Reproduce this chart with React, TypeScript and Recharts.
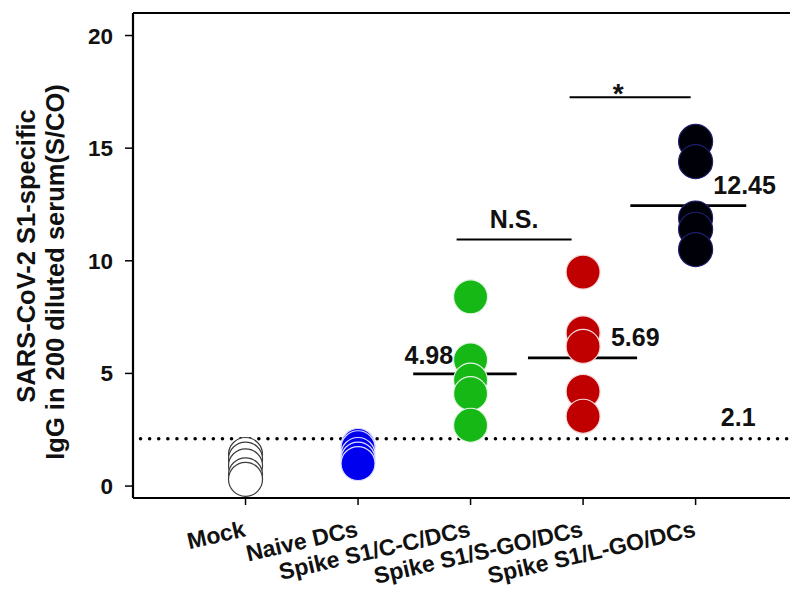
import { ReferenceLine, Scatter, ScatterChart, XAxis, YAxis } from "recharts";

const FONT = "Arial, 'Liberation Sans', sans-serif";

// groups along the x axis
const groups = ["Mock", "Naive DCs", "Spike S1/C-C/DCs", "Spike S1/S-GO/DCs", "Spike S1/L-GO/DCs"];

// IgG S/CO values per animal
const mockValues = [1.4, 1.2, 0.9, 0.5, 0.3];
const naiveValues = [1.8, 1.7, 1.4, 1.2, 1.0];
const ccValues = [8.4, 5.6, 4.7, 4.1, 2.7];
const sgoValues = [9.5, 6.8, 6.2, 4.2, 3.1];
const lgoValues = [15.3, 14.4, 11.9, 11.4, 10.5];

// group means (groups 3,4,5) and cut-off
const meanGroups = [3, 4, 5];
const meanValues = [4.98, 5.69, 12.45];
const cutoff = 2.1;

const yTicks = [0, 5, 10, 15, 20];

const series = [
  { values: mockValues, fill: "#ffffff", stroke: "#3c3c3c" },
  { values: naiveValues, fill: "#0000ee", stroke: "#dcdcff" },
  { values: ccValues, fill: "#16b816", stroke: "#e4f4e4" },
  { values: sgoValues, fill: "#c00000", stroke: "#f4dada" },
  { values: lgoValues, fill: "#000008", stroke: "#1e1e6a" },
];

// mean bar extent around each group centre (x units)
const meanSpan = [
  [-0.51, 0.41],
  [-0.49, 0.48],
  [-0.58, 0.45],
];

function XTick({ x, y, payload }: any) {
  return (
    <g transform={`translate(${x + 1},${y + 29})`}>
      <text
        textAnchor="end"
        transform="rotate(-13)"
        fontSize={23}
        fontWeight="bold"
        fontFamily={FONT}
        fill="#111"
      >
        {groups[payload.value - 1]}
      </text>
    </g>
  );
}

function LineLabel({ viewBox, text, dx = 0, dy = 0, anchor = "start", from = "start", size = 25 }: any) {
  if (!viewBox) return null;
  const base =
    from === "center" ? viewBox.x + viewBox.width / 2 : from === "end" ? viewBox.x + viewBox.width : viewBox.x;
  return (
    <text
      x={base + dx}
      y={viewBox.y + dy}
      textAnchor={anchor}
      fontSize={size}
      fontWeight="bold"
      fontFamily={FONT}
      fill="#111"
    >
      {text}
    </text>
  );
}

function AxisTitle() {
  const common = {
    fontSize: 25.5,
    fontWeight: "bold" as const,
    fontFamily: FONT,
    fill: "#111",
    textAnchor: "middle" as const,
    dominantBaseline: "central" as const,
  };
  return (
    <g>
      <text {...common} transform="translate(18,248) rotate(-90)">
        SARS-CoV-2 S1-specific
      </text>
      <text {...common} transform="translate(47,264) rotate(-90)">
        IgG in 200 diluted serum(S/CO)
      </text>
    </g>
  );
}

export default function App() {
  return (
    <ScatterChart width={790} height={584} margin={{ top: 5, right: 0, bottom: 0, left: 0 }}>
      <XAxis
        type="number"
        dataKey="x"
        domain={[0, 5.91]}
        ticks={[1, 2, 3, 4, 5]}
        allowDataOverflow
        height={94}
        tickSize={7}
        tickMargin={2}
        axisLine={{ stroke: "#000", strokeWidth: 2.2 }}
        tickLine={{ stroke: "#000", strokeWidth: 1.5 }}
        tick={(p: any) => <XTick {...p} />}
      />
      <YAxis
        type="number"
        dataKey="y"
        domain={[-0.53, 21]}
        ticks={yTicks}
        allowDataOverflow
        width={125}
        tickSize={8}
        tickMargin={12}
        axisLine={{ stroke: "#000", strokeWidth: 2.2 }}
        tickLine={{ stroke: "#000", strokeWidth: 1.5 }}
        tick={{ fontSize: 22.5, fontWeight: "bold", fontFamily: FONT, fill: "#111" }}
        label={<AxisTitle />}
      />
      <ReferenceLine y={21} stroke="#000" strokeWidth={2.2} />
      <ReferenceLine
        segment={[
          { x: 0.067, y: cutoff },
          { x: 5.82, y: cutoff },
        ]}
        stroke="#000"
        strokeWidth={3.6}
        strokeDasharray="0 9.1"
        strokeLinecap="round"
        label={<LineLabel text={String(cutoff)} from="end" dx={-67} dy={-13} />}
      />
      {series.map((s, i) => (
        <Scatter
          key={groups[i]}
          name={groups[i]}
          data={s.values.map((v) => ({ x: i + 1, y: v }))}
          isAnimationActive={false}
          shape={(p: any) => (
            <circle cx={p.cx} cy={p.cy} r={17} fill={s.fill} stroke={s.stroke} strokeWidth={1.2} />
          )}
        />
      ))}
      {meanValues.map((m, i) => (
        <ReferenceLine
          key={`mean-${i}`}
          segment={[
            { x: meanGroups[i] + meanSpan[i][0], y: m },
            { x: meanGroups[i] + meanSpan[i][1], y: m },
          ]}
          stroke="#000"
          strokeWidth={2.6}
          label={
            i === 0 ? (
              <LineLabel text={m.toFixed(2)} anchor="end" dx={40} dy={-10} />
            ) : (
              <LineLabel text={m.toFixed(2)} dx={83} dy={-12} />
            )
          }
        />
      ))}
      <ReferenceLine
        segment={[
          { x: 2.876, y: 10.95 },
          { x: 3.898, y: 10.95 },
        ]}
        stroke="#000"
        strokeWidth={2}
        label={<LineLabel text="N.S." from="center" anchor="middle" dy={-11} />}
      />
      <ReferenceLine
        segment={[
          { x: 3.88, y: 17.26 },
          { x: 4.956, y: 17.26 },
        ]}
        stroke="#000"
        strokeWidth={2}
        label={<LineLabel text="*" from="center" anchor="middle" dx={-12} dy={6} size={28} />}
      />
    </ScatterChart>
  );
}
